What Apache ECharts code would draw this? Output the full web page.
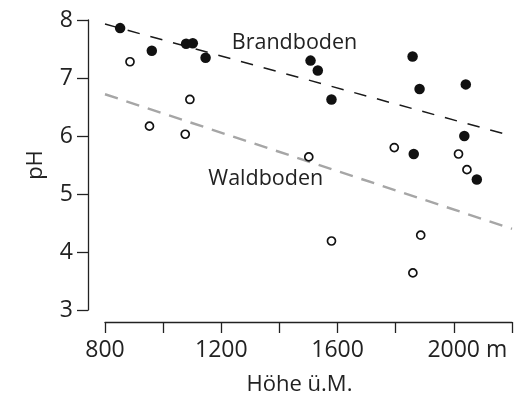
<!DOCTYPE html>
<html>
<head>
<meta charset="utf-8">
<script src="https://cdn.jsdelivr.net/npm/echarts@6/dist/echarts.min.js"></script>
<style>
  html, body { margin: 0; padding: 0; background: #fff; }
  #chart { width: 521px; height: 409px; }
</style>
</head>
<body>
<div id="chart"></div>
<script>
// pH of soil samples versus altitude (m a.s.l.)
const brandboden = [
  [852, 7.86], [961, 7.47], [1079, 7.59], [1102, 7.60], [1146, 7.35],
  [1507, 7.30], [1532, 7.13], [1579, 6.63], [1858, 7.37], [1882, 6.81],
  [2041, 6.89], [2036, 6.00], [1862, 5.69], [2079, 5.25]
];
const waldboden = [
  [886, 7.28], [953, 6.17], [1076, 6.03], [1092, 6.63], [1501, 5.64],
  [1579, 4.19], [1795, 5.80], [2016, 5.69], [2045, 5.42], [1886, 4.29],
  [1859, 3.64]
];
// fitted regression lines (end points)
const brandTrend = [[800, 7.93], [2200, 6.00]];
const waldTrend = [[800, 6.72], [2200, 4.40]];
// series captions and their anchor positions
const captions = ['Brandboden', 'Waldboden'];
const captionAt = [[1452, 7.60], [1353, 5.26]];
// tick labels
const xTickLabels = [800, 1200, 1600, 2000];
const yTicks = [3, 4, 5, 6, 7, 8];

const ink = '#222';
const font = 'Open Sans';

const chart = echarts.init(document.getElementById('chart'));
chart.setOption({
  animation: false,
  backgroundColor: '#fff',
  grid: { left: 105, right: 9, top: 20, bottom: 99 },
  xAxis: {
    type: 'value', min: 800, max: 2200, interval: 200,
    offset: 12,
    name: 'Höhe ü.M.', nameLocation: 'middle', nameGap: 52,
    nameTextStyle: { fontFamily: font, fontSize: 22, color: ink, padding: [0, 18, 0, 0] },
    axisLine: { show: true, lineStyle: { color: ink, width: 1.3 } },
    axisTick: { show: true, length: 11, lineStyle: { color: ink, width: 1.3 } },
    splitLine: { show: false },
    axisLabel: {
      margin: 17, fontFamily: font, fontSize: 23, color: ink,
      showMinLabel: true, showMaxLabel: true,
      formatter: v => {
        if (!xTickLabels.includes(v)) return '';
        return v === 2000 ? '{pad|}{t|' + v + ' m}' : '{t|' + v + '}';
      },
      rich: {
        t: { fontFamily: font, fontSize: 23, color: ink },
        pad: { width: 27 }
      }
    }
  },
  yAxis: {
    type: 'value', min: 3, max: 8, interval: 1,
    offset: 17,
    name: 'pH', nameLocation: 'middle', nameGap: 41, nameRotate: 90,
    nameTextStyle: { fontFamily: font, fontSize: 22, color: ink },
    axisLine: { show: true, lineStyle: { color: ink, width: 1.3 } },
    axisTick: { show: true, length: 11, lineStyle: { color: ink, width: 1.3 } },
    splitLine: { show: false },
    axisLabel: {
      margin: 15, fontFamily: font, fontSize: 23, color: ink,
      formatter: v => yTicks.includes(v) ? String(v) : ''
    }
  },
  series: [
    {
      type: 'line', data: brandTrend, symbol: 'none', silent: true,
      lineStyle: { color: '#1a1a1a', width: 1.5, type: [12.5, 11] }, z: 1
    },
    {
      type: 'line', data: waldTrend, symbol: 'none', silent: true,
      lineStyle: { color: '#a6a6a6', width: 2.4, type: [13.5, 9] }, z: 1
    },
    {
      type: 'scatter', data: brandboden, symbol: 'circle', symbolSize: 10.5,
      itemStyle: { color: '#111', opacity: 1 }, z: 3
    },
    {
      type: 'scatter', data: waldboden, symbol: 'circle', symbolSize: 8,
      itemStyle: { color: '#fff', borderColor: '#111', borderWidth: 1.7, opacity: 1 }, z: 3
    },
    {
      type: 'scatter', symbolSize: 0, silent: true, z: 4,
      itemStyle: { opacity: 1 },
      data: captions.map((c, i) => ({ name: c, value: captionAt[i] })),
      label: {
        show: true, position: 'inside', formatter: p => p.name,
        fontFamily: font, fontSize: 21.5, color: ink
      }
    }
  ]
});
</script>
</body>
</html>
